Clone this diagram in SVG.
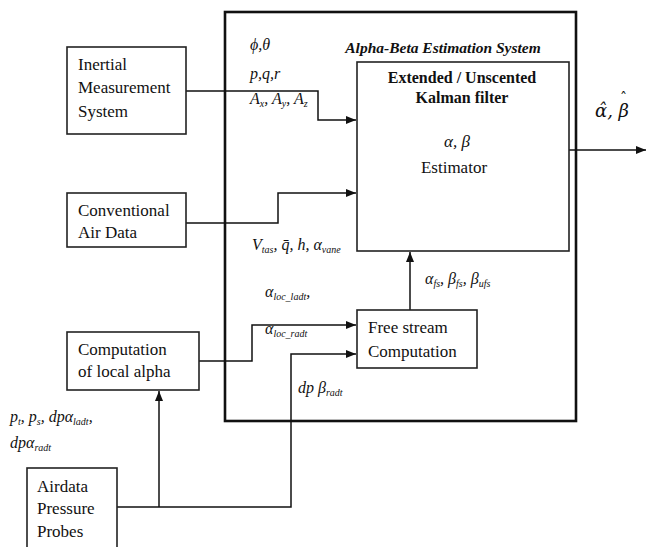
<svg xmlns="http://www.w3.org/2000/svg" width="647" height="547" viewBox="0 0 647 547">
<style>
.box{fill:#fff;stroke:#222;stroke-width:1.6}
.outer{fill:none;stroke:#111;stroke-width:2.6}
.ln{fill:none;stroke:#111;stroke-width:1.5}
text{font-family:'Liberation Serif','Times New Roman','DejaVu Serif',serif;fill:#111}
.t{font-size:17px}
.m{font-size:16px;font-style:italic}
.s{font-size:10px}
.b{font-size:16px;font-weight:bold}
.bi{font-size:15.5px;font-weight:bold;font-style:italic}
.hat{font-family:'DejaVu Serif',serif;font-size:18px;font-style:italic}
</style>
<defs>
<marker id="ah" markerWidth="10" markerHeight="8" refX="10" refY="4" orient="auto" markerUnits="userSpaceOnUse">
<path d="M0,0 L10,4 L0,8 Z" fill="#111"/>
</marker>
</defs>
<rect width="647" height="547" fill="#fff"/>

<g id="system">
<rect class="outer" x="225" y="12" width="351" height="409"/>
<text class="bi" x="443" y="53" text-anchor="middle">Alpha-Beta Estimation System</text>
</g>

<g id="connectors">
<polyline class="ln" points="186,91 318,91 318,120 356,120" marker-end="url(#ah)"/>
<polyline class="ln" points="186,223 278,223 278,193 356,193" marker-end="url(#ah)"/>
<polyline class="ln" points="199,361 252,361 252,325 356,325" marker-end="url(#ah)"/>
<polyline class="ln" points="117,507 291,507 291,354 356,354" marker-end="url(#ah)"/>
<line class="ln" x1="159" y1="507" x2="159" y2="391" marker-end="url(#ah)"/>
<line class="ln" x1="410" y1="310" x2="410" y2="252" marker-end="url(#ah)"/>
<line class="ln" x1="569" y1="150" x2="646" y2="150" marker-end="url(#ah)"/>
</g>

<g id="labels">
<text class="m" x="250" y="50">ϕ,θ</text>
<text class="m" x="250" y="79">p,q,r</text>
<text class="m" x="250" y="104">A<tspan class="s" dy="3">x</tspan><tspan dy="-3">, A</tspan><tspan class="s" dy="3">y</tspan><tspan dy="-3">, A</tspan><tspan class="s" dy="3">z</tspan></text>
<text class="hat" x="595" y="117">α̂, β<tspan dx="-9" dy="-14" style="font-size:14px;font-style:normal">ˆ</tspan></text>
<text class="m" x="252" y="250">V<tspan class="s" dy="3">tas</tspan><tspan dy="-3">, q̄, h, α</tspan><tspan class="s" dy="3">vane</tspan></text>
<text class="m" x="425" y="284">α<tspan class="s" dy="3">fs</tspan><tspan dy="-3">, β</tspan><tspan class="s" dy="3">fs</tspan><tspan dy="-3">, β</tspan><tspan class="s" dy="3">ufs</tspan></text>
<text class="m" x="265" y="297">α<tspan class="s" dy="3">loc_ladt</tspan><tspan dy="-3">,</tspan></text>
<text class="m" x="265" y="334">α<tspan class="s" dy="3">loc_radt</tspan></text>
<text class="m" x="298" y="393">dp β<tspan class="s" dy="3">radt</tspan></text>
<text class="m" x="10" y="422">p<tspan class="s" dy="3">t</tspan><tspan dy="-3">, p</tspan><tspan class="s" dy="3">s</tspan><tspan dy="-3">, dpα</tspan><tspan class="s" dy="3">ladt</tspan><tspan dy="-3">,</tspan></text>
<text class="m" x="10" y="448">dpα<tspan class="s" dy="3">radt</tspan></text>
</g>

<g id="kalman">
<rect class="box" x="357" y="62" width="212" height="189"/>
<text class="b" x="462" y="83" text-anchor="middle">Extended / Unscented</text>
<text class="b" x="462" y="103" text-anchor="middle">Kalman filter</text>
<text class="m" x="457" y="147" text-anchor="middle" style="font-size:17px">α, β</text>
<text class="t" x="454" y="173" text-anchor="middle">Estimator</text>
</g>

<g id="ims">
<rect class="box" x="67" y="47" width="119" height="87"/>
<text class="t" x="78" y="70">Inertial</text>
<text class="t" x="78" y="93">Measurement</text>
<text class="t" x="78" y="117">System</text>
</g>

<g id="airdata">
<rect class="box" x="67" y="193" width="119" height="54"/>
<text class="t" x="78" y="216">Conventional</text>
<text class="t" x="78" y="238">Air Data</text>
</g>

<g id="localalpha">
<rect class="box" x="67" y="332" width="132" height="58"/>
<text class="t" x="78" y="355">Computation</text>
<text class="t" x="78" y="377">of local alpha</text>
</g>

<g id="freestream">
<rect class="box" x="357" y="310" width="120" height="58"/>
<text class="t" x="368" y="333">Free stream</text>
<text class="t" x="368" y="357">Computation</text>
</g>

<g id="probes">
<rect class="box" x="27" y="468" width="90" height="90"/>
<text class="t" x="37" y="492">Airdata</text>
<text class="t" x="37" y="514">Pressure</text>
<text class="t" x="37" y="537">Probes</text>
</g>
</svg>
